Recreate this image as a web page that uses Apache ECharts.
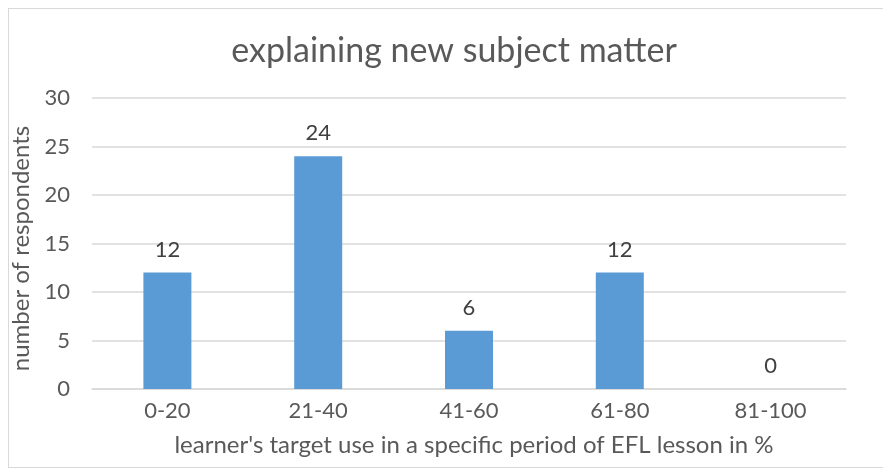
<!DOCTYPE html>
<html>
<head>
<meta charset="utf-8">
<script src="https://cdn.jsdelivr.net/npm/echarts@6/dist/echarts.min.js"></script>
<style>
  html, body { margin: 0; padding: 0; background: #fff; }
  #frame { position: absolute; left: 8px; top: 8px; width: 890px; height: 460px; border: 1.5px solid #d9d9d9; box-sizing: border-box; }
  #chart { position: absolute; left: 0; top: 0; width: 883px; height: 476px; }
</style>
</head>
<body>
<div id="frame"></div>
<div id="chart"></div>
<script>
const categories = ['0-20', '21-40', '41-60', '61-80', '81-100'];
const respondents = [12, 24, 6, 12, 0];
const yTicks = [0, 5, 10, 15, 20, 25, 30];

const chart = echarts.init(document.getElementById('chart'));
const font = 'Lato, "Open Sans", sans-serif';

chart.setOption({
  backgroundColor: 'transparent',
  textStyle: { fontFamily: font },
  title: {
    text: 'explaining new subject matter',
    left: 449,
    top: 29,
    textAlign: 'center',
    textStyle: { fontFamily: font, fontSize: 34, fontWeight: 'normal', color: '#595959' }
  },
  grid: { left: 92, right: 37, top: 98, bottom: 87 },
  xAxis: {
    type: 'category',
    data: categories,
    name: "learner's target use in a specific period of EFL lesson in %",
    nameLocation: 'middle',
    nameGap: 44,
    nameTextStyle: { fontFamily: font, fontSize: 24, color: '#595959', padding: [0, 0, 0, 10] },
    axisLine: { lineStyle: { color: '#d9d9d9', width: 1.5 } },
    axisTick: { show: false },
    axisLabel: { fontFamily: font, fontSize: 22, color: '#595959', margin: 11 }
  },
  yAxis: {
    type: 'value',
    min: yTicks[0],
    max: yTicks[yTicks.length - 1],
    interval: 5,
    name: 'number of respondents',
    nameLocation: 'middle',
    nameGap: 49,
    nameTextStyle: { fontFamily: font, fontSize: 24, color: '#595959', padding: [0, 10, 0, 0] },
    axisLine: { show: false },
    axisTick: { show: false },
    axisLabel: { fontFamily: font, fontSize: 22, color: '#595959', margin: 22 },
    splitLine: { lineStyle: { color: '#d9d9d9', width: 1.5 } }
  },
  series: [{
    type: 'bar',
    data: respondents,
    barWidth: 48,
    itemStyle: { color: '#5b9bd5' },
    label: {
      show: true,
      position: 'top',
      distance: 12,
      fontFamily: font,
      fontSize: 22,
      color: '#404040'
    }
  }],
  animation: false
});
</script>
</body>
</html>
